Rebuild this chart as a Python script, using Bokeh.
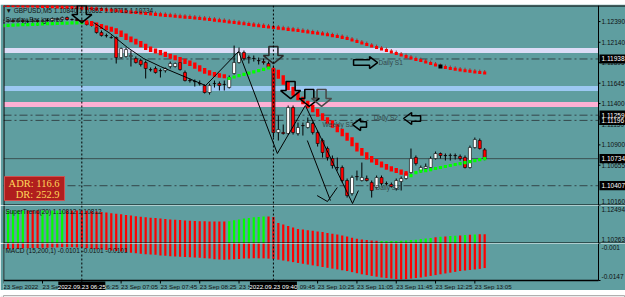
from bokeh.plotting import figure
from bokeh.models import Range1d, Span
from bokeh.layouts import column
from bokeh.core.properties import value
from bokeh.embed import file_html
from bokeh.resources import INLINE

# ---------------- data (GBPUSD M5, 23 Sep 2022, 05:05 .. 13:15) ----------------
opens = [1.12378,1.12390,1.12402,1.12390,1.12402,1.12390,1.12390,1.12402,1.12390,1.12402,
         1.12402,1.12415,1.12415,1.12439,1.12415,1.12415,1.12402,1.12378,1.12354,1.12318,
         1.12257,1.12221,1.12197,1.12197,1.11955,1.11968,1.11968,1.11943,1.11919,1.11895,
         1.11810,1.11823,1.11798,1.11798,1.11847,1.11847,1.11895,1.11774,1.11678,1.11666,
         1.11641,1.11617,1.11533,1.11641,1.11641,1.11629,1.11593,1.11762,1.11895,1.12016,
         1.11955,1.11943,1.11919,1.11907,1.11883,1.11823,1.11049,1.11049,1.11037,1.11351,
         1.11037,1.11134,1.11110,1.11158,1.11049,1.10953,1.10856,1.10735,1.10627,1.10627,
         1.10470,1.10313,1.10518,1.10470,1.10494,1.10445,1.10385,1.10506,1.10433,1.10421,
         1.10373,1.10458,1.10494,1.10566,1.10747,1.10590,1.10615,1.10627,1.10735,1.10796,
         1.10772,1.10772,1.10772,1.10760,1.10747,1.10627,1.10868,1.10953,1.10840]
highs = [1.12415,1.12415,1.12415,1.12427,1.12415,1.12415,1.12427,1.12415,1.12415,1.12427,
         1.12439,1.12439,1.12451,1.12451,1.12427,1.12427,1.12415,1.12390,1.12378,1.12342,
         1.12282,1.12245,1.12221,1.12209,1.12076,1.12076,1.12040,1.11968,1.11943,1.11919,
         1.11835,1.11847,1.11823,1.11835,1.11907,1.11895,1.11919,1.11798,1.11702,1.11690,
         1.11678,1.11629,1.11641,1.11678,1.11666,1.11678,1.11738,1.12100,1.12076,1.12040,
         1.11980,1.11980,1.11955,1.11943,1.11907,1.11847,1.11255,1.11146,1.11376,1.11376,
         1.11170,1.11170,1.11231,1.11182,1.11074,1.10977,1.10880,1.10772,1.10747,1.10651,
         1.10494,1.10530,1.10590,1.10687,1.10530,1.10470,1.10530,1.10530,1.10458,1.10445,
         1.10494,1.10518,1.10578,1.10856,1.10772,1.10651,1.10675,1.10760,1.10820,1.10808,
         1.10796,1.10796,1.10796,1.10784,1.10772,1.10892,1.10989,1.10977,1.10862]
lows = [1.12366,1.12378,1.12378,1.12378,1.12366,1.12366,1.12378,1.12342,1.12354,1.12390,
        1.12390,1.12402,1.12402,1.12402,1.12402,1.12390,1.12378,1.12342,1.12330,1.12245,
        1.12209,1.12197,1.12185,1.11883,1.11943,1.11955,1.11847,1.11883,1.11847,1.11702,
        1.11786,1.11762,1.11714,1.11774,1.11823,1.11835,1.11798,1.11666,1.11653,1.11605,
        1.11617,1.11521,1.11508,1.11593,1.11557,1.11557,1.11581,1.11750,1.11883,1.11919,
        1.11883,1.11907,1.11871,1.11871,1.11823,1.10989,1.10953,1.11025,1.11025,1.11025,
        1.11013,1.11013,1.11098,1.11025,1.10880,1.10747,1.10711,1.10615,1.10590,1.10445,
        1.10264,1.10288,1.10470,1.10458,1.10458,1.10264,1.10373,1.10409,1.10409,1.10385,
        1.10349,1.10349,1.10482,1.10554,1.10651,1.10566,1.10602,1.10615,1.10723,1.10735,
        1.10711,1.10711,1.10723,1.10711,1.10615,1.10615,1.10856,1.10844,1.10715]
closes = [1.12402,1.12402,1.12390,1.12402,1.12390,1.12392,1.12402,1.12390,1.12402,1.12404,
          1.12427,1.12427,1.12439,1.12415,1.12413,1.12402,1.12390,1.12354,1.12342,1.12257,
          1.12221,1.12219,1.12195,1.11955,1.12064,1.12052,1.11980,1.11895,1.11871,1.11823,
          1.11808,1.11774,1.11796,1.11823,1.11883,1.11883,1.11810,1.11678,1.11676,1.11664,
          1.11639,1.11533,1.11617,1.11643,1.11617,1.11631,1.11714,1.11895,1.12016,1.11943,
          1.11953,1.11945,1.11917,1.11895,1.11835,1.11049,1.11086,1.11037,1.11351,1.11049,
          1.11110,1.11132,1.11170,1.11049,1.10917,1.10808,1.10747,1.10651,1.10625,1.10470,
          1.10288,1.10506,1.10516,1.10506,1.10470,1.10349,1.10506,1.10433,1.10431,1.10397,
          1.10470,1.10494,1.10554,1.10735,1.10675,1.10627,1.10639,1.10735,1.10796,1.10772,
          1.10770,1.10774,1.10770,1.10735,1.10627,1.10868,1.10965,1.10856,1.10734]

# slow moving average (red dotted line)
ma_slow = [1.12584,1.12584,1.12582,1.12581,1.12580,1.12579,1.12578,1.12576,1.12574,1.12572,
           1.12569,1.12567,1.12564,1.12562,1.12559,1.12556,1.12552,1.12549,1.12545,1.12540,
           1.12535,1.12530,1.12526,1.12521,1.12515,1.12509,1.12504,1.12499,1.12493,1.12487,
           1.12482,1.12477,1.12471,1.12465,1.12460,1.12454,1.12449,1.12443,1.12439,1.12433,
           1.12427,1.12421,1.12415,1.12407,1.12400,1.12393,1.12385,1.12378,1.12371,1.12363,
           1.12354,1.12347,1.12340,1.12332,1.12325,1.12318,1.12311,1.12303,1.12296,1.12289,
           1.12282,1.12273,1.12265,1.12256,1.12248,1.12239,1.12230,1.12220,1.12210,1.12199,
           1.12185,1.12167,1.12149,1.12131,1.12112,1.12094,1.12076,1.12058,1.12040,1.12022,
           1.12004,1.11986,1.11967,1.11949,1.11931,1.11919,1.11901,1.11883,1.11865,1.11847,
           1.11835,1.11823,1.11813,1.11804,1.11796,1.11789,1.11781,1.11774,1.11768]

# supertrend on price: up (green) / down (red) legs
st_up = ([1.12342,1.12344,1.12347,1.12349,1.12352,1.12354,1.12356,1.12359,1.12361,1.12364,
          1.12366,1.12368,1.12371,1.12372,1.12373,1.12375,1.12376] + [None] * 29 +
         [1.11702,1.11720,1.11738,1.11753,1.11768,1.11783,1.11798,1.11813,1.11829] + [None] * 28 +
         [1.10530,1.10566,1.10584,1.10590,1.10602,1.10615,1.10627,1.10639,1.10651,1.10663,
          1.10675,1.10687,1.10699,1.10711,1.10723,1.10735])
st_dn = ([None] * 17 +
         [1.12384,1.12366,1.12348,1.12330,1.12314,1.12300,1.12276,1.12245,1.12203,1.12173,
          1.12149,1.12119,1.12082,1.12052,1.12034,1.12016,1.11992,1.11970,1.11953,1.11931,
          1.11907,1.11889,1.11859,1.11823,1.11793,1.11768,1.11750,1.11738,1.11726] + [None] * 9 +
         [1.11810,1.11762,1.11678,1.11617,1.11545,1.11484,1.11436,1.11388,1.11340,1.11291,
          1.11231,1.11194,1.11158,1.11098,1.11049,1.11001,1.10941,1.10868,1.10814,1.10766,
          1.10723,1.10693,1.10663,1.10633,1.10609,1.10590,1.10572,1.10548] + [None] * 16)

# SuperTrend(20) histogram panel
st_hist = ([1.12201] * 17 +
           [1.12183,1.12159,1.12136,1.12112,1.12077,1.12042,1.12013,1.11977,1.11942,1.11901,
            1.11866,1.11831,1.11807,1.11778,1.11754,1.11731,1.11696,1.11672,1.11655,1.11637,
            1.11619,1.11602,1.11584,1.11572,1.11567,1.11561,1.11555,1.11555,1.11561] +
           [1.11572,1.11625,1.11672,1.11725,1.11766,1.11801,1.11825,1.11848,1.11848,1.11813] +
           [1.11467,1.11379,1.11291,1.11203,1.11115,1.11079,1.11044,1.11009,1.10974,1.10938,
            1.10886,1.10839,1.10786,1.10727,1.10668,1.10598,1.10545,1.10504,1.10469,1.10445,
            1.10428,1.10416,1.10410,1.10410,1.10416,1.10428,1.10445,1.10463,1.10487,1.10528,
            1.10557,1.10592,1.10627,1.10657,1.10680,1.10704,1.10721,1.10739,1.10757,1.10780,
            1.10795,1.10805,1.10812])
st_trend = ([1] * 5 + [-1] * 3 + [1] * 5 + [-1] * 33 + [1] * 8 + [-1] * 23 + [1] * 11 +
            [-1, 1, -1, 1, 1, -1, 1, -1, 1, -1, -1])

# MACD(15,200,1) histogram
macd = [-0.0030,-0.0030,-0.0029,-0.0029,-0.0028,
        -0.0028,-0.0027,-0.0027,-0.0026,-0.0026,-0.0025,-0.0025,-0.0024,
        -0.0024,-0.0024,-0.0025,-0.0026,
        -0.0028,-0.0029,-0.0031,-0.0032,
        -0.0034,-0.0036,-0.0038,-0.0040,-0.0042,-0.0044,-0.0046,
        -0.0048,-0.0050,-0.0051,-0.0052,-0.0054,-0.0055,-0.0057,
        -0.0058,-0.0059,-0.0060,-0.0061,-0.0062,-0.0063,-0.0065,
        -0.0066,-0.0068,-0.0069,-0.0070,-0.0069,
        -0.0068,-0.0067,-0.0066,-0.0066,-0.0065,-0.0065,-0.0065,-0.0066,
        -0.0067,-0.0070,-0.0073,-0.0076,-0.0079,-0.0082,
        -0.0085,-0.0088,-0.0091,-0.0094,-0.0097,-0.0100,-0.0103,
        -0.0106,-0.0109,-0.0112,-0.0116,-0.0120,-0.0124,-0.0127,
        -0.0130,-0.0133,-0.0136,-0.0138,-0.0140,-0.0142,-0.0143,
        -0.0142,-0.0140,-0.0138,-0.0136,-0.0133,-0.0130,-0.0127,
        -0.0124,-0.0121,-0.0118,-0.0115,-0.0112,-0.0110,-0.0108,-0.0106,-0.0104,-0.0101]

# horizontal levels
band_levels = [1.12040, 1.11581, 1.11388]            # lavender, light blue, pink bands
pivot_levels = [1.11938, 1.11259, 1.11196, 1.10407]  # dash-dot pivot lines
bid_price = 1.10734
axis_marks = [1.11938, 1.11259, 1.11196, 1.10734, 1.10407]

# price-scale tick labels
main_ticks = [1.12390, 1.12140, 1.11895, 1.11645, 1.11400, 1.11150, 1.10900, 1.10655, 1.10160]
st_ticks = [1.12494, 1.10263]
macd_ticks = [-0.001, -0.0147]
macd_tick_lbl = ["-0.001", "-0.0147"]

# time axis
tick_idx = [0, 8, 16, 24, 32, 40, 48, 56, 64, 72, 80, 88, 96]
tick_lbl = ["23 Sep 2022", "23 Sep 05:45", "23 Sep 06:25", "23 Sep 07:05", "23 Sep 07:45",
            "23 Sep 08:25", "23 Sep 09:05", "23 Sep 09:45", "23 Sep 10:25", "23 Sep 11:05",
            "23 Sep 11:45", "23 Sep 12:25", "23 Sep 13:05"]
vlines = [16, 55]
vline_lbl = ["2022.09.23 06:25", "2022.09.23 09:40"]

# drawn objects: signal arrows, zigzag lines, pivot texts
down_arrow_x = [16, 55, 58.5, 62.3, 64.8]
down_arrow_p = [1.12378, 1.11883, 1.11460, 1.11364, 1.11364]
down_arrow_c = ["black", "#2a2a2a", "black", "black", "#4a4a4a"]
side_arrow_x = [76.2, 81.5, 71.1]
side_arrow_p = [1.11895, 1.11219, 1.11146]
side_arrow_dir = [1, -1, -1]
side_arrow_len = [24, 17, 14]
zz_x = [18.4, 21.8, 25.3, 28.6, 32.0, 41.2, 47.9, 55.8, 61.5, 71.1, 72.3]
zz_p = [1.12378, 1.12245, 1.12076, 1.11943, 1.11847, 1.11617, 1.12028, 1.10796, 1.11376, 1.10192, 1.10349]
zz2_x = [61.9, 66.6]
zz2_p = [1.10953, 1.10228]
hook_x = [63.9, 66.0, 68.0]
hook_p = [1.10288, 1.10216, 1.10385]
piv_txt = ["Daily S1", "Weekly S2", "Daily S2", "Daily S3"]
piv_x = [76.4, 65.0, 75.4, 75.8]
piv_p = [1.11895, 1.11146, 1.11231, 1.10385]

# ---------------- styling / geometry ----------------
N = len(closes)
idx = list(range(N))
TEAL = "#5f9ea0"
FONT = "Liberation Sans"
FS = "6.5px"
FS_T = "6.2px"
BPX = 1 / 4.913                    # bars per pixel
X0 = 0.06
XA = X0 + 595 * BPX                # price-scale line
XR = X0 + 622 * BPX                # right edge of the window
YMIN, YMAX = 1.10168, 1.12584
ST_MIN, ST_MAX = 1.10263, 1.12494
MD_MIN, MD_MAX = -0.0147, -0.001
PPX = (YMAX - YMIN) / 200.0
SPX = (ST_MAX - ST_MIN) / 38.0
MPX = (MD_MAX - MD_MIN) / 37.0
MD_BOTTOM = MD_MIN - 10 * MPX      # includes the time-scale strip

xr = Range1d(X0, XR)


def make_fig(h, lo, hi, top=0):
    f = figure(width=625, height=h, x_range=xr, y_range=Range1d(lo, hi),
               x_axis_location=None, y_axis_location=None, toolbar_location=None,
               output_backend="svg", min_border=0, min_border_left=3, min_border_top=top,
               background_fill_color=TEAL, border_fill_color=TEAL, outline_line_color=None)
    f.grid.visible = False
    return f


def price_scale(f, vals, labels, lo, hi, ppx, marks=()):
    n = len(vals)
    f.segment(x0=[XA], y0=[lo], x1=[XA], y1=[hi], line_color="black", line_width=1)
    f.segment(x0=[XA] * n, y0=vals, x1=[XA + 2 * BPX] * n, y1=vals, line_color="black")
    ys = [min(max(v, lo + 3.6 * ppx), hi - 3.6 * ppx) for v in vals]
    f.text(x=[XA + 3 * BPX] * n, y=ys, text=labels, text_font=value(FONT), text_font_size=FS,
           text_color="#101010", text_baseline="middle")
    if marks:
        k = len(marks)
        f.quad(left=[XA + 1 * BPX] * k, right=[XR] * k, top=[v + 4.6 * ppx for v in marks],
               bottom=[v - 4.6 * ppx for v in marks], fill_color="black", line_color=None)
        f.text(x=[XA + 3 * BPX] * k, y=list(marks), text=["%.5f" % v for v in marks],
               text_font=value(FONT), text_font_size=FS, text_color="white",
               text_baseline="middle")


# strip above chart
top_strip = figure(width=625, height=4, toolbar_location=None, output_backend="svg",
                   min_border=0, x_axis_location=None, y_axis_location=None,
                   background_fill_color="#f2f2f2", border_fill_color="#f2f2f2",
                   outline_line_color=None)

# ---------------- main price panel ----------------
p = make_fig(201, YMIN, YMAX, top=1)
p.segment(x0=[X0] * 3, y0=band_levels, x1=[XA] * 3, y1=band_levels,
          line_color=["#dcdcf6", "#9cc8f2", "#ffb0d4"], line_width=5)
p.segment(x0=[X0] * 4, y0=pivot_levels, x1=[XA] * 4, y1=pivot_levels,
          line_color="#34474a", line_width=1, line_dash="8 3 2 3")
p.segment(x0=[X0], y0=[bid_price], x1=[XA], y1=[bid_price], line_color="#3c5252", line_width=1)
# panel borders
p.segment(x0=[X0, X0, X0], y0=[YMAX, YMIN, YMIN], x1=[XR, XR, X0], y1=[YMAX, YMIN, YMAX],
          line_color="black", line_width=2)

# candles
body_top = [max(o, c) for o, c in zip(opens, closes)]
body_bot = [min(o, c) for o, c in zip(opens, closes)]
body_col = ["#ffffff" if c >= o else "#ff0000" for o, c in zip(opens, closes)]
p.segment(x0=idx, y0=lows, x1=idx, y1=highs, line_color="black", line_width=1)
p.vbar(x=idx, width=0.62, top=body_top, bottom=body_bot, fill_color=body_col,
       line_color="black", line_width=0.6)

# supertrend red blocks (down leg)
rx, rt, rb = [], [], []
for i, v in enumerate(st_dn):
    if v is None:
        continue
    prev = st_dn[i - 1] if i > 0 and st_dn[i - 1] is not None else v
    nxt = st_dn[i + 1] if i + 1 < N and st_dn[i + 1] is not None else v
    a, b = (prev + v) / 2, (v + nxt) / 2
    rx.append(i)
    rt.append(max(a, b) + 1.7 * PPX)
    rb.append(min(a, b) - 1.7 * PPX)
p.vbar(x=rx, width=0.68, top=rt, bottom=rb, fill_color="#ff0000", line_color=None)
gx = [i for i, v in enumerate(st_up) if v is not None]
gy = [v for v in st_up if v is not None]
p.scatter(gx, gy, marker="square", size=3.2, fill_color="#00ff00", line_color=None)

# slow MA dots
p.segment(x0=idx, y0=ma_slow, x1=idx, y1=[v + 3 * PPX for v in ma_slow],
          line_color="#a02020", line_width=0.8)
p.scatter(idx, ma_slow, marker="square", size=3.1, fill_color="#ff0000", line_color=None)
p.scatter([idx[89]], [ma_slow[89]], marker="square", size=4, fill_color="black", line_color=None)

# zigzag / trend lines
p.line(zz_x, zz_p, line_color="black", line_width=1)
p.line(zz2_x, zz2_p, line_color="black", line_width=1)
p.line(hook_x, hook_p, line_color="black", line_width=1)

# hollow signal arrows
axs, ays = [], []
for xc, pt in zip(down_arrow_x, down_arrow_p):
    pts = [(0, 0), (-10, 8), (-4.5, 8), (-4.5, 17), (4.5, 17), (4.5, 8), (10, 8)]
    axs.append([xc + dx * BPX for dx, dy in pts])
    ays.append([pt + dy * PPX for dx, dy in pts])
p.patches(axs, ays, fill_alpha=0, line_color=down_arrow_c, line_width=1.6)
sxs, sys_ = [], []
for xt, pt, d, ln in zip(side_arrow_x, side_arrow_p, side_arrow_dir, side_arrow_len):
    pts = [(0, 0), (-8, 6), (-8, 2.8), (-ln, 2.8), (-ln, -2.8), (-8, -2.8), (-8, -6)]
    sxs.append([xt + d * dx * BPX for dx, dy in pts])
    sys_.append([pt + dy * PPX for dx, dy in pts])
p.patches(sxs, sys_, fill_alpha=0, line_color="black", line_width=1.5)

p.text(x=piv_x, y=piv_p, text=piv_txt, text_font=value(FONT), text_font_size=FS,
       text_color="#34474a", text_baseline="middle")

# header texts
p.text(x=[0.45, 0.45], y=[YMAX - 1.5 * PPX, YMAX - 10.5 * PPX],
       text=["\u25bc GBPUSD,M5  1.10840 1.10862 1.10715 1.10734", "Sunday Bar ignored"],
       text_font=value(FONT), text_font_size=FS, text_color="#111111", text_baseline="top")

# ADR box
p.quad(left=[X0 + 1 * BPX], right=[X0 + 61 * BPX], top=[YMAX - 171 * PPX],
       bottom=[YMAX - 195 * PPX], fill_color="#b01e1e", line_color="#d05050", line_width=1)
p.text(x=[X0 + 56 * BPX, X0 + 56 * BPX], y=[YMAX - 178 * PPX, YMAX - 189 * PPX],
       text=["ADR: 116.6", "DR: 252.9"], text_align="right", text_baseline="middle",
       text_font=value("Liberation Serif"), text_font_size="10.5px", text_color="#ffd75a")

price_scale(p, main_ticks, ["%.5f" % v for v in main_ticks], YMIN, YMAX, PPX, axis_marks)

# ---------------- SuperTrend panel ----------------
s = make_fig(38, ST_MIN, ST_MAX)
s.vbar(x=idx, width=0.45, top=st_hist, bottom=ST_MIN - 0.01,
       fill_color=["#00ff00" if t > 0 else "#ff0000" for t in st_trend], line_color=None)
s.segment(x0=[X0, X0], y0=[ST_MIN, ST_MIN], x1=[XR, X0], y1=[ST_MIN, ST_MAX],
          line_color="black", line_width=2)
s.text(x=[0.45], y=[ST_MAX - 2.5 * SPX], text=["SuperTrend(20) 1.10812 1.10812"],
       text_font=value(FONT), text_font_size=FS, text_color="#111111", text_baseline="top")
price_scale(s, st_ticks, ["%.5f" % v for v in st_ticks], ST_MIN, ST_MAX, SPX)

# ---------------- MACD panel + time scale ----------------
m = make_fig(47, MD_BOTTOM, MD_MAX)
m.vbar(x=idx, width=0.45, top=0.0, bottom=macd, fill_color="#ff0000", line_color=None)
m.segment(x0=[X0, X0], y0=[MD_MIN, MD_MIN], x1=[XA, X0], y1=[MD_MIN, MD_MAX],
          line_color="black", line_width=1.5)
m.text(x=[0.45], y=[MD_MAX - 3 * MPX], text=["MACD (15,200,1) -0.0101 -0.0101 -0.0101"],
       text_font=value(FONT), text_font_size=FS, text_color="#111111", text_baseline="top")
price_scale(m, macd_ticks, macd_tick_lbl, MD_MIN, MD_MAX, MPX)
# time ticks and labels
nt = len(tick_idx)
m.segment(x0=tick_idx, y0=[MD_MIN] * nt, x1=tick_idx, y1=[MD_MIN - 3 * MPX] * nt,
          line_color="black", line_width=1)
ty = MD_MIN - 6 * MPX
m.text(x=tick_idx, y=[ty] * nt, text=tick_lbl, text_font=value(FONT), text_font_size=FS_T,
       text_color="#101010", text_baseline="middle", text_align="left")
nv = len(vlines)
m.quad(left=[v - 23.5 * BPX for v in vlines], right=[v + 23.5 * BPX for v in vlines],
       top=[MD_MIN - 1 * MPX] * nv, bottom=[MD_MIN - 10.5 * MPX] * nv,
       fill_color="black", line_color=None)
m.text(x=vlines, y=[ty] * nv, text=vline_lbl, text_font=value(FONT), text_font_size=FS_T,
       text_color="white", text_baseline="middle", text_align="center")
m.segment(x0=vlines, y0=[MD_MIN] * nv, x1=vlines, y1=[MD_MAX] * nv,
          line_color="black", line_width=1, line_dash="2 2")

# vertical crosshair lines through the upper panels
for f in (p, s):
    for xv in vlines:
        f.add_layout(Span(location=xv, dimension="height", line_color="black",
                          line_width=1, line_dash="2 2"))

bottom_strip = figure(width=625, height=7, toolbar_location=None, output_backend="svg",
                      min_border=0, x_axis_location=None, y_axis_location=None,
                      background_fill_color="#ececec", border_fill_color="#ececec",
                      outline_line_color="#b0b0b0")

layout = column(top_strip, p, s, m, bottom_strip, spacing=0)
open("out.html", "w").write(file_html(layout, INLINE))
